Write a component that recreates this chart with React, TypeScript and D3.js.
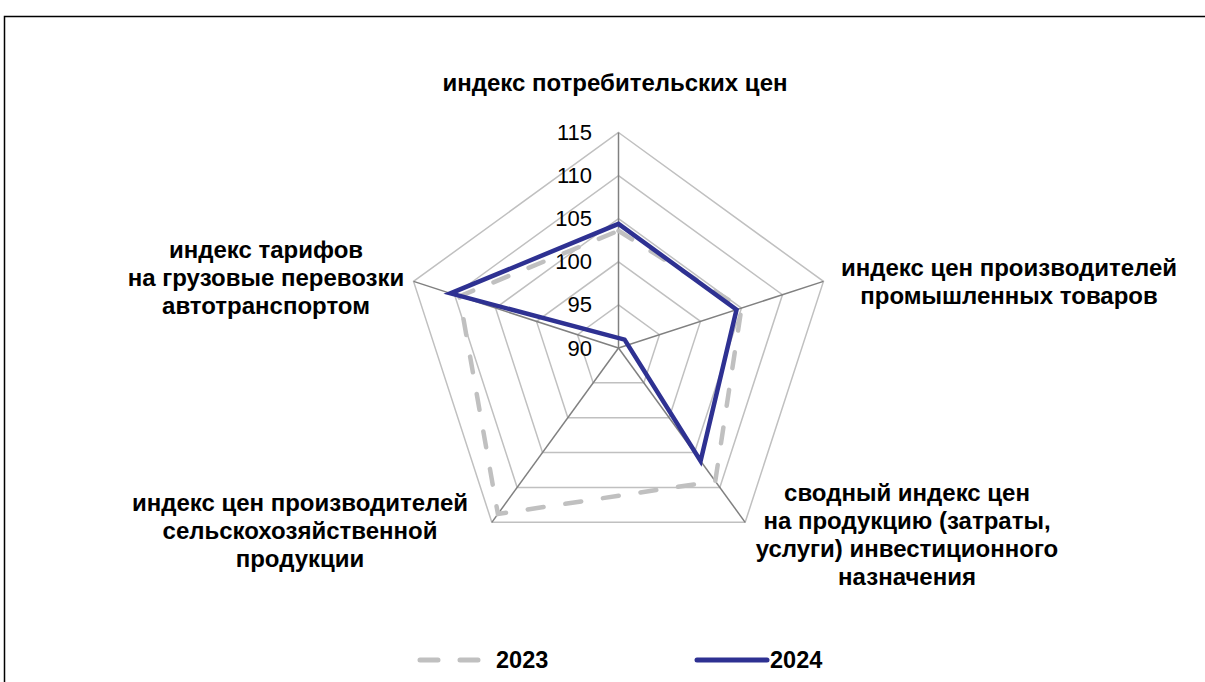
import React from "react";
import * as d3 from "d3";

const axisLabels: string[][] = [
  ["индекс потребительских цен"],
  ["индекс цен производителей", "промышленных товаров"],
  ["сводный индекс цен", "на продукцию (затраты,", "услуги) инвестиционного", "назначения"],
  ["индекс цен производителей", "сельскохозяйственной", "продукции"],
  ["индекс тарифов", "на грузовые перевозки", "автотранспортом"],
];
const values2023 = [103.6, 105.0, 109.1, 113.8, 109.4];
const values2024 = [104.4, 104.4, 106.2, 88.8, 110.5];
const ticks = [90, 95, 100, 105, 110, 115];

// label anchor positions (x-height centre of first line)
const labelPos = [
  { x: 615, y: 85 },
  { x: 1009, y: 270 },
  { x: 907, y: 495 },
  { x: 300, y: 505 },
  { x: 266, y: 252 },
];

const W = 1205;
const H = 682;
const cx = 618.5;
const cy = 348;
const R = 215.5;
const FONT = "Arial, 'Liberation Sans', sans-serif";

export default function App() {
  const r = d3.scaleLinear().domain([90, 115]).range([0, R]);
  const n = axisLabels.length;
  const angle = d3.scaleLinear().domain([0, n]).range([0, 2 * Math.PI]);
  const pt = (i: number, v: number): [number, number] => {
    const a = angle(i);
    return [cx + r(v) * Math.sin(a), cy - r(v) * Math.cos(a)];
  };

  const line = d3
    .lineRadial<number>()
    .angle((_, i) => angle(i))
    .radius((d) => r(d))
    .curve(d3.curveLinearClosed);

  const ring = (v: number) =>
    d3.range(n).map((i) => pt(i, v).join(",")).join(" ");

  return (
    <svg
      width={W}
      height={H}
      style={{ position: "absolute", left: 0, top: 0, background: "#fff" }}
      fontFamily={FONT}
    >
      <rect x={4.5} y={16.5} width={1260} height={720} fill="none" stroke="#000" strokeWidth={1.5} />

      {ticks.slice(1).map((t) => (
        <polygon key={t} points={ring(t)} fill="none" stroke="#c0c0c0" strokeWidth={1.5} />
      ))}
      {d3.range(n).map((i) => {
        const [x, y] = pt(i, 115);
        return <line key={i} x1={cx} y1={cy} x2={x} y2={y} stroke="#808080" strokeWidth={1.5} />;
      })}

      {ticks.map((t) => (
        <text
          key={t}
          x={592}
          y={cy - r(t)}
          textAnchor="end"
          dominantBaseline="central"
          fontSize={22}
          fill="#000"
        >
          {t}
        </text>
      ))}

      <g transform={`translate(${cx},${cy})`}>
        <path
          d={line(values2023) || ""}
          fill="none"
          stroke="#c0c0c0"
          strokeWidth={4.5}
          strokeDasharray="16 22"
          strokeLinecap="round"
        />
        <path
          d={line(values2024) || ""}
          fill="none"
          stroke="#2e3192"
          strokeWidth={4.5}
          strokeLinejoin="miter"
        />
      </g>

      {axisLabels.map((lines, i) =>
        lines.map((s, j) => (
          <text
            key={i + "-" + j}
            x={labelPos[i].x}
            y={labelPos[i].y + j * 28 + 6}
            textAnchor="middle"
            fontSize={24}
            fontWeight="bold"
            fill="#000"
          >
            {s}
          </text>
        ))
      )}

      <g>
        <line x1={420} y1={660} x2={480} y2={660} stroke="#c0c0c0" strokeWidth={5} strokeDasharray="18 22" strokeLinecap="round" />
        <text x={496} y={668} fontSize={23.5} fontWeight="bold">2023</text>
        <line x1={697} y1={660} x2={767} y2={660} stroke="#2e3192" strokeWidth={5} strokeLinecap="round" />
        <text x={770} y={668} fontSize={23.5} fontWeight="bold">2024</text>
      </g>
    </svg>
  );
}
